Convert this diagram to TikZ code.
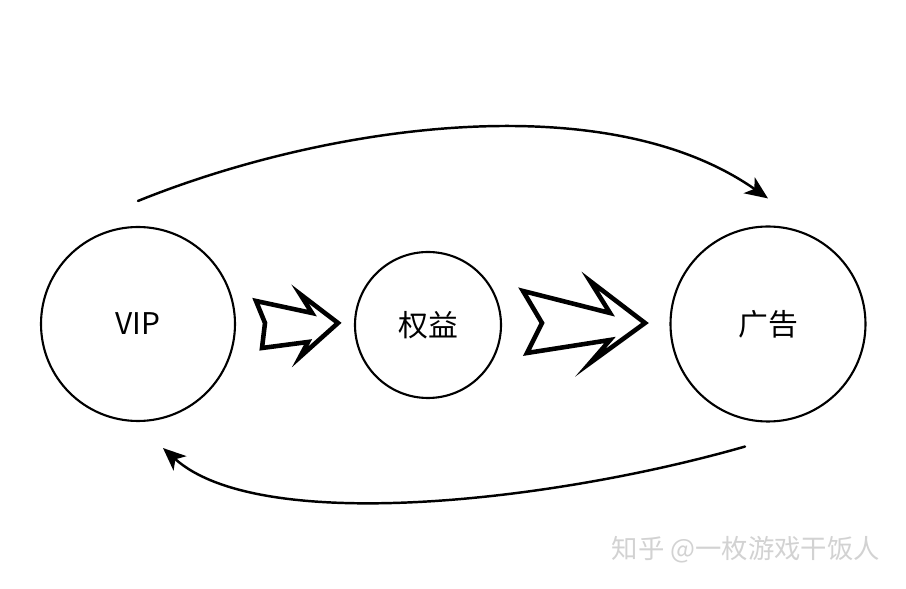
\documentclass[tikz,border=0pt]{standalone}
\usepackage{fontspec}
\setmainfont{Noto Sans CJK SC}
\usepackage{tikz}
\usetikzlibrary{arrows.meta}
\tikzset{
  bubble/.style={circle, draw, line width=1.2pt, inner sep=0pt, font=\fontsize{17}{20}\selectfont},
  flow/.style={line width=1.4pt, -{Stealth[length=13pt,width=11pt,inset=3.5pt]}},
  hollow/.style={line width=2.6pt, line join=miter, fill=white},
  every picture/.style={line cap=round}
}

\begin{document}
\begin{tikzpicture}
  \useasboundingbox (0,0) rectangle (18.12,11.78);

  \node[bubble, minimum size=3.88cm] (vip) at (2.76,5.3) {VIP};
  \node[bubble, minimum size=2.92cm] (perk) at (8.56,5.28) {权益};
  \node[bubble, minimum size=3.9cm] (ad) at (15.36,5.3) {广告};

  \draw[flow] ([yshift=5mm]vip.north) .. controls +(22:4) and +(145:4) .. ([yshift=5.4mm]ad.north);
  \draw[flow] ([shift={(-0.46,-0.48)}]ad.south) .. controls +(196:4) and +(-42:2.6) .. ([shift={(0.5,-0.52)}]vip.south);

  \draw[hollow] (5.12,5.76) -- (6.24,5.52) -- (6.00,5.90) -- (6.76,5.32) -- (6.00,4.64)
    -- (6.16,4.94) -- (5.24,4.82) -- (5.30,5.32) -- cycle;
  \draw[hollow] (10.46,5.96) -- (12.20,5.52) -- (11.80,6.16) -- (12.90,5.32) -- (11.80,4.52)
    -- (12.20,4.98) -- (10.54,4.72) -- (10.84,5.32) -- cycle;

  \node[text=gray!35, font=\fontsize{15}{18}\selectfont] (mark) at (14.92,0.78) {知乎 @一枚游戏干饭人};
\end{tikzpicture}
\end{document}
